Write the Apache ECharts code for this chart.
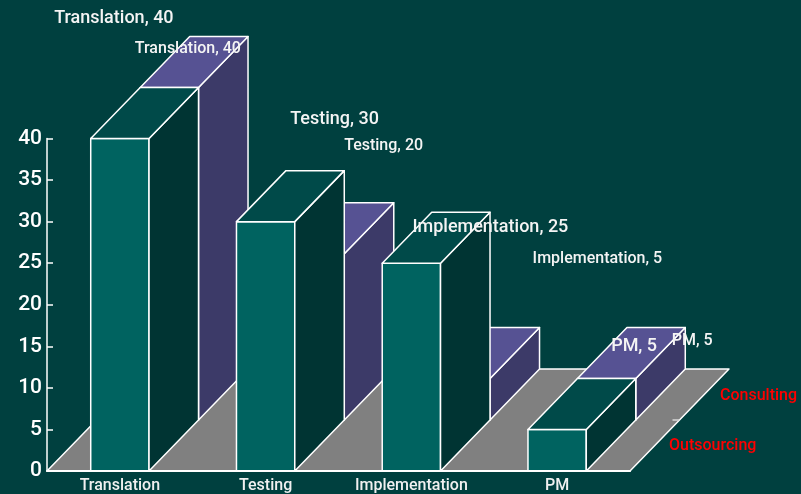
<!DOCTYPE html>
<html>
<head>
<meta charset="utf-8">
<style>
  html, body { margin: 0; padding: 0; background: #00403f; }
  #chart { width: 801px; height: 494px; }
</style>
<script src="https://cdn.jsdelivr.net/npm/echarts@6/dist/echarts.min.js"></script>
</head>
<body>
<div id="chart"></div>
<script>
const categories = ['Translation', 'Testing', 'Implementation', 'PM'];
const outsourcing = [40, 30, 25, 5];
const consulting = [40, 20, 5, 5];

// hand placed labels in the original, offsets from the top middle of each bar's front face
const outsourcingLabelOffsets = [[-6, -120], [69, -102], [79, -36], [77, -83]];
const consultingLabelOffsets = [[68, -90], [118, -159], [186, -170], [135, -88]];

const FONT = 'Roboto, sans-serif';
const DEPTH_X = 49.5;
const DEPTH_Y = 51;
const BAR_RATIO = 0.4;
const LINE = { stroke: '#ffffff', lineWidth: 1.5, lineJoin: 'round' };

function toData(values) {
    return values.map((v, i) => [i, v]);
}

// one 3d box, row 0 is the front row and row 1 the back row
function boxItem(colors, labelOffsets, row, fontSize) {
    return function (params, api) {
        const cat = api.value(0);
        const val = api.value(1);
        const w = api.size([1, 0])[0] * BAR_RATIO;
        const base = api.coord([cat, 0]);
        const top = api.coord([cat, val]);
        const dx = DEPTH_X * row;
        const dy = -DEPTH_Y * row;
        const x0 = base[0] - w / 2 + dx;
        const x1 = x0 + w;
        const yb = base[1] + dy;
        const yt = top[1] + dy;
        const off = labelOffsets[cat];
        return {
            type: 'group',
            children: [
                { type: 'polygon', shape: { points: [[x0, yb], [x1, yb], [x1, yt], [x0, yt]] },
                  style: Object.assign({ fill: colors.front }, LINE) },
                { type: 'polygon', shape: { points: [[x1, yb], [x1 + DEPTH_X, yb - DEPTH_Y], [x1 + DEPTH_X, yt - DEPTH_Y], [x1, yt]] },
                  style: Object.assign({ fill: colors.side }, LINE) },
                { type: 'polygon', shape: { points: [[x0, yt], [x1, yt], [x1 + DEPTH_X, yt - DEPTH_Y], [x0 + DEPTH_X, yt - DEPTH_Y]] },
                  style: Object.assign({ fill: colors.top }, LINE) },
                { type: 'text', z2: 100, x: base[0] + off[0], y: top[1] + off[1],
                  style: { text: categories[cat] + ', ' + val, fill: '#f4f4f4', align: 'center', verticalAlign: 'middle',
                           fontFamily: FONT, fontWeight: 500, fontSize: fontSize } }
            ]
        };
    };
}

// floor plane, depth axis tick and the two row names
function floorItem(params, api) {
    const c = params.coordSys;
    const l = c.x;
    const r = c.x + c.width;
    const b = c.y + c.height;
    const tx = DEPTH_X * 2;
    const ty = DEPTH_Y * 2;
    return {
        type: 'group',
        children: [
            { type: 'polygon', shape: { points: [[l, b], [r, b], [r + tx, b - ty], [l + tx, b - ty]] },
              style: Object.assign({ fill: '#808080' }, LINE) },
            { type: 'line', shape: { x1: r + DEPTH_X - 7, y1: b - DEPTH_Y, x2: r + DEPTH_X, y2: b - DEPTH_Y },
              style: { stroke: '#d8d8d8', lineWidth: 1.5 } },
            { type: 'text', z2: 100, x: r + 39, y: b - 25,
              style: { text: 'Outsourcing', fill: '#ff0000', fontFamily: FONT, fontWeight: 500, fontSize: 16, verticalAlign: 'middle' } },
            { type: 'text', z2: 100, x: r + 90, y: b - 75,
              style: { text: 'Consulting', fill: '#ff0000', fontFamily: FONT, fontWeight: 500, fontSize: 16, verticalAlign: 'middle' } }
        ]
    };
}

const chart = echarts.init(document.getElementById('chart'));

chart.setOption({
    animation: false,
    backgroundColor: '#00403f',
    grid: { left: 47, top: 138.5, width: 583, height: 333 },
    xAxis: {
        type: 'category',
        data: categories,
        z: 5,
        axisLine: { lineStyle: { color: '#ffffff', width: 2 } },
        axisTick: { inside: true, length: 8, lineStyle: { color: '#e0e0e0', width: 1.5 } },
        axisLabel: { interval: 0, color: '#f0f0f0', fontFamily: FONT, fontWeight: 500, fontSize: 16, margin: 7 }
    },
    yAxis: {
        type: 'value',
        min: 0,
        max: 40,
        interval: 5,
        z: 5,
        splitLine: { show: false },
        axisLine: { show: true, lineStyle: { color: '#ffffff', width: 1.5 } },
        axisTick: { show: true, inside: true, length: 6, lineStyle: { color: '#ffffff', width: 1.5 } },
        axisLabel: { color: '#ffffff', fontFamily: FONT, fontWeight: 500, fontSize: 21, margin: 5, padding: [6, 0, 0, 0] }
    },
    series: [
        { type: 'custom', name: 'Floor', data: [[0, 0]], renderItem: floorItem, silent: true },
        {
            type: 'custom', name: 'Consulting', data: toData(consulting),
            renderItem: boxItem({ front: '#4c4980', side: '#3c3a68', top: '#565293' }, consultingLabelOffsets, 1, 16)
        },
        {
            type: 'custom', name: 'Outsourcing', data: toData(outsourcing),
            renderItem: boxItem({ front: '#006360', side: '#003433', top: '#004a49' }, outsourcingLabelOffsets, 0, 18)
        }
    ]
});
</script>
</body>
</html>
